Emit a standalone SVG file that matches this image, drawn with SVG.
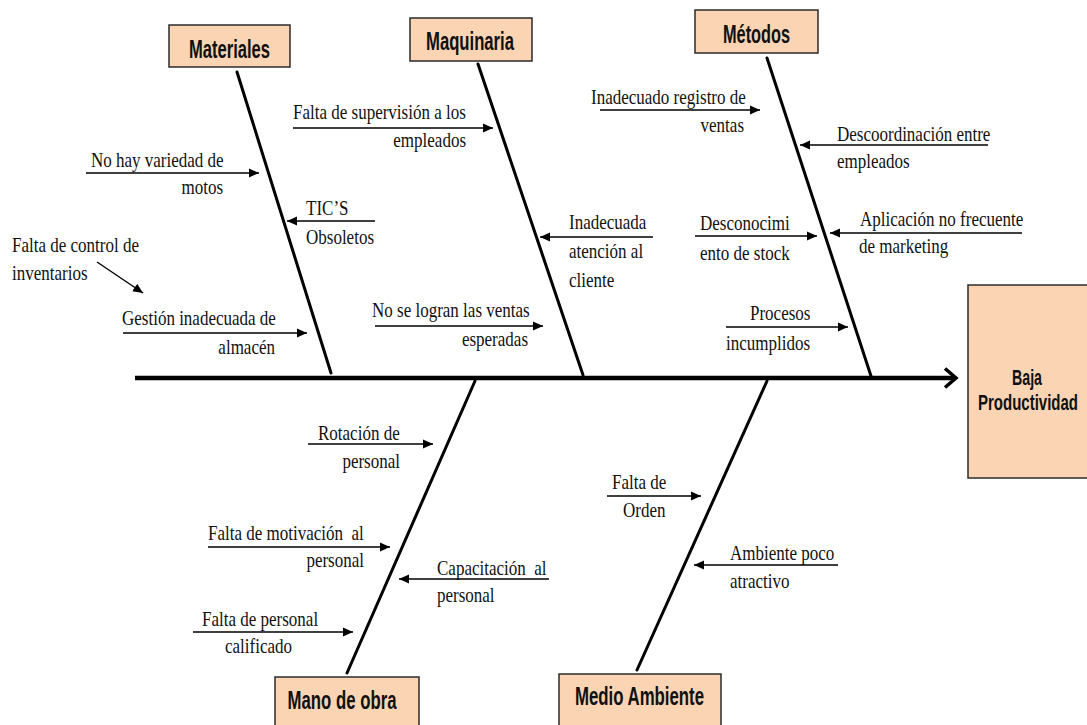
<svg xmlns="http://www.w3.org/2000/svg" width="1087" height="725" viewBox="0 0 1087 725">
  <style>
    .box { fill: #FBD4B4; stroke: #2b2b2b; stroke-width: 1.5; }
    .hd { font-family: "Liberation Sans", Arial, sans-serif; font-weight: bold; font-size: 26px; fill: #111; text-anchor: middle; }
    .eff { font-family: "Liberation Sans", Arial, sans-serif; font-weight: bold; font-size: 22px; fill: #111; text-anchor: middle; }
    .t { font-family: "Liberation Serif", "Times New Roman", serif; font-size: 22px; fill: #111; }
    .e { text-anchor: end; }
    .pre { white-space: pre; }
    .bone { stroke: #000; stroke-width: 3; fill: none; stroke-linecap: round; }
    .spine { stroke: #000; stroke-width: 4.5; fill: none; }
    .sub { stroke: #000; stroke-width: 1.4; fill: none; marker-end: url(#tri); }
  </style>
  <defs>
    <marker id="tri" markerUnits="userSpaceOnUse" markerWidth="11" markerHeight="10" refX="10" refY="5" orient="auto">
      <path d="M0,0.5 L10,5 L0,9.5 z" fill="#000"/>
    </marker>
  </defs>

  <rect width="1087" height="725" fill="#fff"/>

  <!-- main spine and the five category bones -->
  <g id="connectors">
    <line class="spine" x1="135" y1="378" x2="954" y2="378"/>
    <polyline points="945,368.5 956,378 945,387.5" fill="none" stroke="#000" stroke-width="3.5" stroke-linejoin="miter"/>

    <line class="bone" x1="237" y1="72" x2="331" y2="373"/>
    <line class="bone" x1="478" y1="64" x2="583" y2="375"/>
    <line class="bone" x1="767" y1="58" x2="871" y2="376"/>
    <line class="bone" x1="475" y1="381" x2="347" y2="673"/>
    <line class="bone" x1="767" y1="381" x2="637" y2="670"/>

    <!-- Materiales causes -->
    <line class="sub" x1="86" y1="173" x2="259" y2="173"/>
    <line class="sub" x1="375" y1="221" x2="287" y2="221"/>
    <line class="sub" x1="97" y1="262" x2="143" y2="293"/>
    <line class="sub" x1="123" y1="333" x2="307" y2="333"/>

    <!-- Maquinaria causes -->
    <line class="sub" x1="293" y1="128" x2="493" y2="128"/>
    <line class="sub" x1="653" y1="237" x2="540" y2="237"/>
    <line class="sub" x1="375" y1="326" x2="543" y2="326"/>

    <!-- Métodos causes -->
    <line class="sub" x1="600" y1="110" x2="760" y2="110"/>
    <line class="sub" x1="988" y1="145" x2="800" y2="145"/>
    <line class="sub" x1="695" y1="236" x2="817" y2="236"/>
    <line class="sub" x1="1022" y1="233" x2="830" y2="233"/>
    <line class="sub" x1="726" y1="327" x2="848" y2="327"/>

    <!-- Mano de obra causes -->
    <line class="sub" x1="308" y1="444" x2="433" y2="444"/>
    <line class="sub" x1="208" y1="547" x2="390" y2="547"/>
    <line class="sub" x1="549" y1="579" x2="399" y2="579"/>
    <line class="sub" x1="193" y1="632" x2="353" y2="632"/>

    <!-- Medio Ambiente causes -->
    <line class="sub" x1="607" y1="496" x2="701" y2="496"/>
    <line class="sub" x1="838" y1="565" x2="694" y2="565"/>
  </g>

  <!-- category boxes -->
  <g id="materiales">
    <rect class="box" x="169" y="25" width="121" height="42"/>
    <text class="hd" x="229.5" y="58" textLength="81" lengthAdjust="spacingAndGlyphs">Materiales</text>
  </g>
  <g id="maquinaria">
    <rect class="box" x="410" y="18" width="122" height="43"/>
    <text class="hd" x="470" y="50" textLength="88" lengthAdjust="spacingAndGlyphs">Maquinaria</text>
  </g>
  <g id="metodos">
    <rect class="box" x="695" y="10" width="123" height="43"/>
    <text class="hd" x="756.5" y="43" textLength="67" lengthAdjust="spacingAndGlyphs">Métodos</text>
  </g>
  <g id="mano-de-obra">
    <rect class="box" x="275" y="677" width="144" height="60"/>
    <text class="hd" x="342" y="709" textLength="109" lengthAdjust="spacingAndGlyphs">Mano de obra</text>
  </g>
  <g id="medio-ambiente">
    <rect class="box" x="559" y="674" width="162" height="60"/>
    <text class="hd" x="639.5" y="705" textLength="129" lengthAdjust="spacingAndGlyphs">Medio Ambiente</text>
  </g>
  <g id="efecto">
    <rect class="box" x="968" y="285" width="125" height="193"/>
    <text class="eff" x="1027" y="385" textLength="30" lengthAdjust="spacingAndGlyphs">Baja</text>
    <text class="eff" x="1028" y="410" textLength="100" lengthAdjust="spacingAndGlyphs">Productividad</text>
  </g>

  <!-- cause labels -->
  <g id="causas-materiales">
    <text class="t" transform="translate(91,167) scale(0.773,1)">No hay variedad de</text>
    <text class="t e" transform="translate(223,194) scale(0.773,1)">motos</text>
    <text class="t" transform="translate(306,215) scale(0.773,1)">TIC’S</text>
    <text class="t" transform="translate(306,244) scale(0.773,1)">Obsoletos</text>
    <text class="t" transform="translate(12,252) scale(0.773,1)">Falta de control de</text>
    <text class="t" transform="translate(12,280) scale(0.773,1)">inventarios</text>
    <text class="t" transform="translate(122,325) scale(0.773,1)">Gestión inadecuada de</text>
    <text class="t e" transform="translate(275,354) scale(0.773,1)">almacén</text>
  </g>
  <g id="causas-maquinaria">
    <text class="t" transform="translate(293,119) scale(0.773,1)">Falta de supervisión a los</text>
    <text class="t e" transform="translate(466,147) scale(0.773,1)">empleados</text>
    <text class="t" transform="translate(569,229) scale(0.773,1)">Inadecuada</text>
    <text class="t" transform="translate(569,258) scale(0.773,1)">atención al</text>
    <text class="t" transform="translate(569,287) scale(0.773,1)">cliente</text>
    <text class="t" transform="translate(372,317) scale(0.773,1)">No se logran las ventas</text>
    <text class="t e" transform="translate(528,346) scale(0.773,1)">esperadas</text>
  </g>
  <g id="causas-metodos">
    <text class="t" transform="translate(591,104) scale(0.773,1)">Inadecuado registro de</text>
    <text class="t e" transform="translate(744,132) scale(0.773,1)">ventas</text>
    <text class="t" transform="translate(837,141) scale(0.773,1)">Descoordinación entre</text>
    <text class="t" transform="translate(837,168) scale(0.773,1)">empleados</text>
    <text class="t" transform="translate(700,230) scale(0.773,1)">Desconocimi</text>
    <text class="t" transform="translate(700,260) scale(0.773,1)">ento de stock</text>
    <text class="t" transform="translate(860,226) scale(0.773,1)">Aplicación no frecuente</text>
    <text class="t" transform="translate(859,253) scale(0.773,1)">de marketing</text>
    <text class="t" transform="translate(750,320) scale(0.773,1)">Procesos</text>
    <text class="t" transform="translate(726,350) scale(0.773,1)">incumplidos</text>
  </g>
  <g id="causas-mano-de-obra">
    <text class="t" transform="translate(318,440) scale(0.773,1)">Rotación de</text>
    <text class="t e" transform="translate(400,468) scale(0.773,1)">personal</text>
    <text class="t pre" transform="translate(208,540) scale(0.773,1)">Falta de motivación  al</text>
    <text class="t e" transform="translate(364,567) scale(0.773,1)">personal</text>
    <text class="t pre" transform="translate(437,575) scale(0.773,1)">Capacitación  al</text>
    <text class="t" transform="translate(437,602) scale(0.773,1)">personal</text>
    <text class="t" transform="translate(202,626) scale(0.773,1)">Falta de personal</text>
    <text class="t" transform="translate(225,653) scale(0.773,1)">calificado</text>
  </g>
  <g id="causas-medio-ambiente">
    <text class="t" transform="translate(612,489) scale(0.773,1)">Falta de</text>
    <text class="t" transform="translate(623,517) scale(0.773,1)">Orden</text>
    <text class="t" transform="translate(730,560) scale(0.773,1)">Ambiente poco</text>
    <text class="t" transform="translate(730,588) scale(0.773,1)">atractivo</text>
  </g>
</svg>
